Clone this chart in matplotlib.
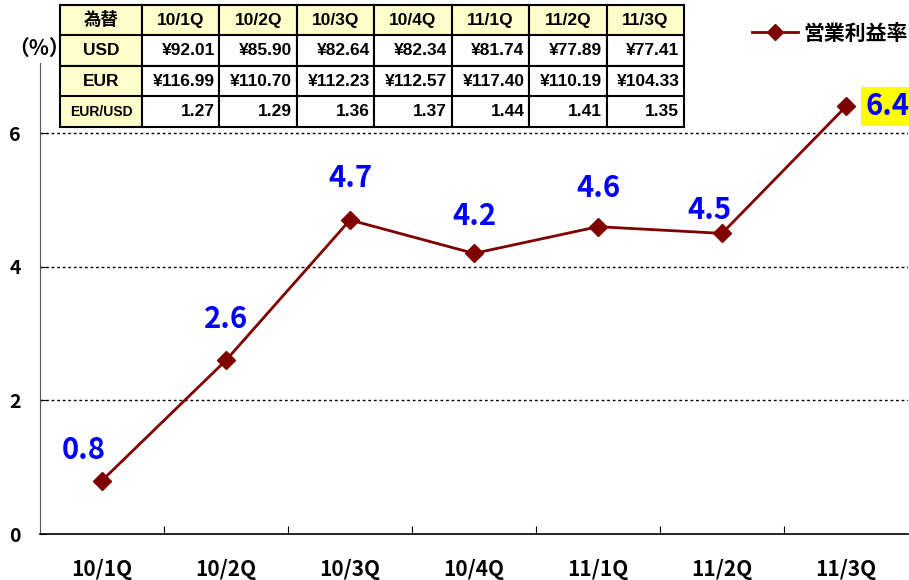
import matplotlib
matplotlib.use("Agg")
import matplotlib.pyplot as plt
from matplotlib.lines import Line2D

plt.rcParams['font.family'] = ['Noto Sans CJK JP', 'DejaVu Sans']

categories = ["10/1Q", "10/2Q", "10/3Q", "10/4Q", "11/1Q", "11/2Q", "11/3Q"]
margin = [0.8, 2.6, 4.7, 4.2, 4.6, 4.5, 6.4]
series_name = "営業利益率"

table_header = ["為替"] + categories
usd = ["¥92.01", "¥85.90", "¥82.64", "¥82.34", "¥81.74", "¥77.89", "¥77.41"]
eur = ["¥116.99", "¥110.70", "¥112.23", "¥112.57", "¥117.40", "¥110.19", "¥104.33"]
eurusd = ["1.27", "1.29", "1.36", "1.37", "1.44", "1.41", "1.35"]
row_names = ["USD", "EUR", "EUR/USD"]

yticks = [0, 2, 4, 6]

# label offsets in points (dx, dy)
label_offsets = [(-13, 22), (0, 30), (0, 30), (0, 27), (0, 28), (-9, 17), (30, 0)]

W, H = 909, 580
fig = plt.figure(figsize=(W / 100, H / 100), dpi=100)
ax = fig.add_axes([40 / W, 1 - 534 / H, 868 / W, 471 / H])

line_color = "#800000"
x = list(range(len(categories)))
ax.plot(x, margin, color=line_color, lw=2, marker="D", ms=9, zorder=3)
ax.set_xlim(-0.5, len(categories) - 0.5)
ax.set_ylim(0, 7.05)

for i, v in enumerate(margin):
    dx, dy = label_offsets[i]
    kw = {}
    if i == len(margin) - 1:
        kw["bbox"] = dict(boxstyle="square,pad=0.15", fc="#FFFF00", ec="none")
    ax.annotate(f"{v:.1f}", (i, v), xytext=(dx, dy), textcoords="offset points",
                ha="center", va="center", color="#0000FF", fontsize=21,
                fontweight="bold", **kw)

for y in [2, 4, 6]:
    ax.axhline(y, color="black", lw=1.0, ls=(0, (2, 2)), zorder=1)

ax.spines["top"].set_visible(False)
ax.spines["right"].set_visible(False)
ax.spines["left"].set_color("#555555")
ax.spines["bottom"].set_color("black")
ax.spines["bottom"].set_linewidth(1.2)

ax.set_yticks(yticks)
ax.set_yticklabels([str(t) for t in yticks], fontsize=14, fontweight="bold")
ax.tick_params(axis="y", length=4, direction="in", pad=14)

ax.set_xticks([i + 0.5 for i in range(len(categories) - 1)], minor=False)
ax.set_xticklabels([])
ax.tick_params(axis="x", which="major", length=6, direction="in")
ax.set_xticks(x, minor=True)
ax.set_xticklabels(categories, minor=True, fontsize=15, fontweight="bold")
ax.tick_params(axis="x", which="minor", length=0, pad=18)

fig.text(8 / W, 1 - 48 / H, "（%）", fontsize=15, fontweight="bold",
         va="center", ha="left")

# legend
leg_handle = Line2D([], [], color=line_color, lw=2, marker="D", ms=8)
fig.legend([leg_handle], [series_name], loc="center", bbox_to_anchor=(830 / W, 1 - 33 / H),
           frameon=False, prop={"weight": "bold", "size": 15},
           handlelength=2.2, handletextpad=0.3)

# table
tax = fig.add_axes([60 / W, 1 - 127 / H, 624 / W, 122 / H])
tax.axis("off")
cell_text = [table_header,
             [row_names[0]] + usd,
             [row_names[1]] + eur,
             [row_names[2]] + eurusd]
colw = [82] + [77.4] * 7
tot = sum(colw)
tbl = tax.table(cellText=cell_text, bbox=[0, 0, 1, 1], colWidths=[c / tot for c in colw],
                cellLoc="center")
tbl.auto_set_font_size(False)
yellow = "#FFFFCC"
for (r, c), cell in tbl.get_celld().items():
    cell.set_edgecolor("black")
    cell.set_linewidth(1.5)
    txt = cell.get_text()
    txt.set_fontweight("bold")
    txt.set_fontsize(12.5)
    txt.set_fontfamily(["Liberation Sans", "Noto Sans CJK JP", "DejaVu Sans"])
    if r == 0 or c == 0:
        cell.set_facecolor(yellow)
    if r == 0 and c == 0:
        txt.set_fontfamily(["Noto Sans CJK JP", "DejaVu Sans"])
    if r > 0 and c > 0:
        cell.PAD = 0.06
        txt.set_ha("right")
    if r == 3 and c == 0:
        txt.set_fontsize(10)

fig.savefig("out.png", dpi=100)
